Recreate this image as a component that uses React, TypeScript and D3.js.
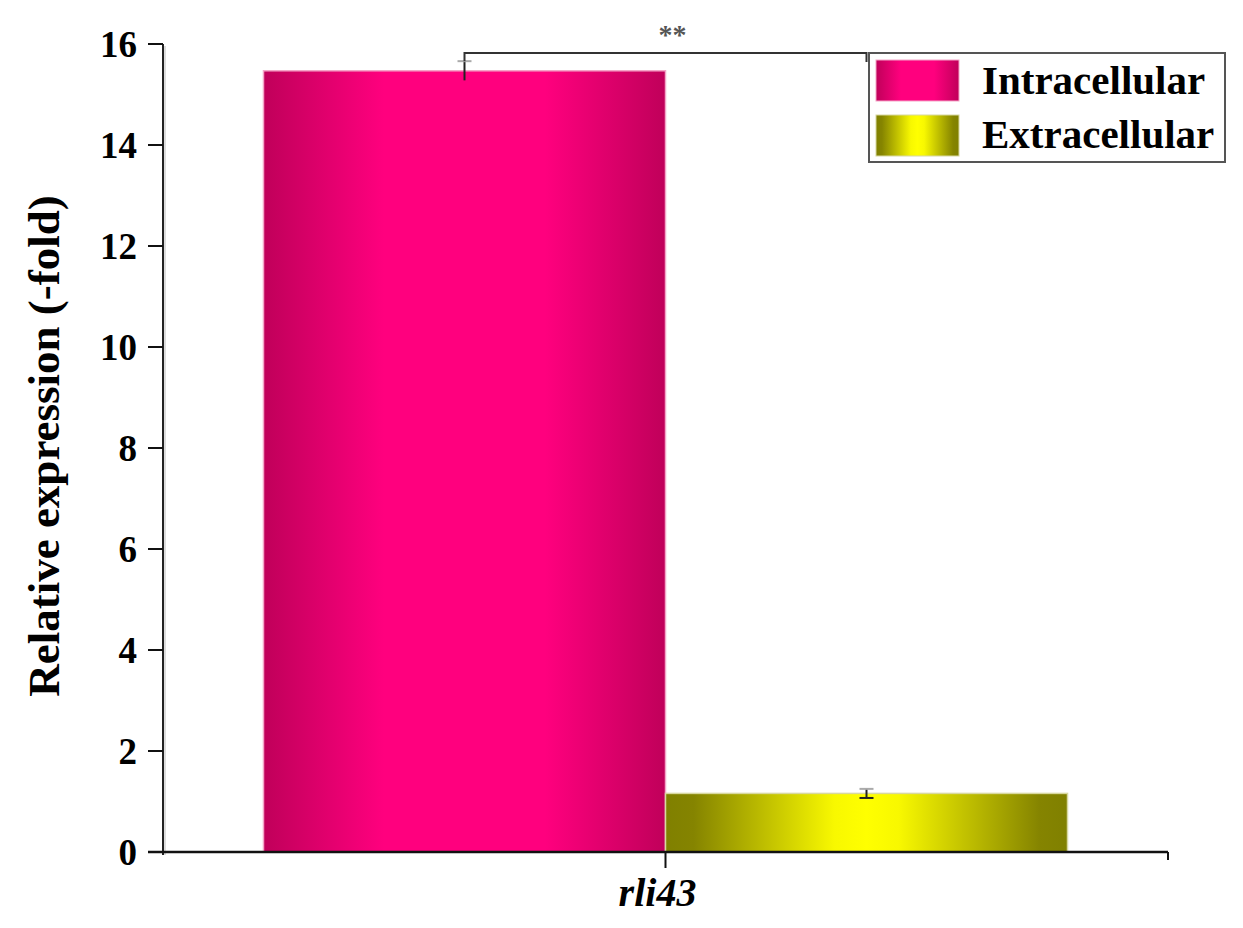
import React from "react";
import * as d3 from "d3";

const categories = ["rli43"];
const seriesNames = ["Intracellular", "Extracellular"];
const intracellular = [15.47];
const intracellularErr = [0.19];
const extracellular = [1.16];
const extracellularErr = [0.09];
const yTicks = [0, 2, 4, 6, 8, 10, 12, 14, 16];
const significance = "**";

export default function App() {
  const W = 1243, H = 928;
  const x0 = 163, x1 = 1168, yTop = 44, yBot = 852;
  const x = d3.scaleBand<string>().domain(categories).range([x0, x1]).paddingOuter(0.1).paddingInner(0.2);
  const y = d3.scaleLinear().domain([0, 16]).range([yBot, yTop]);
  const sub = d3.scaleBand<string>().domain(seriesNames).range([0, x.bandwidth()]);
  const serif = "'Liberation Serif', 'Times New Roman', serif";
  const vals = [intracellular, extracellular];
  const errs = [intracellularErr, extracellularErr];
  const fills = ["url(#gPink)", "url(#gYellow)"];
  const strokes = ["#f4a6c8", "#d8d8a0"];

  const cat = categories[0];
  const cx = (s: number) => (x(cat) as number) + (sub(seriesNames[s]) as number) + sub.bandwidth() / 2;
  const bracketY = 53;

  return (
    <svg width={W} height={H} style={{ position: "absolute", left: 0, top: 0, background: "#fff" }}>
      <defs>
        <linearGradient id="gPink" x1="0" x2="1" y1="0" y2="0">
          <stop offset="0" stopColor="#C0005A" />
          <stop offset="0.3" stopColor="#FF007E" />
          <stop offset="0.7" stopColor="#FF007E" />
          <stop offset="1" stopColor="#C0005A" />
        </linearGradient>
        <linearGradient id="gYellow" x1="0" x2="1" y1="0" y2="0">
          <stop offset="0" stopColor="#808000" />
          <stop offset="0.07" stopColor="#858400" />
          <stop offset="0.42" stopColor="#F8F800" />
          <stop offset="0.5" stopColor="#FFFF00" />
          <stop offset="0.58" stopColor="#F8F800" />
          <stop offset="0.93" stopColor="#858400" />
          <stop offset="1" stopColor="#808000" />
        </linearGradient>
      </defs>

      {/* bars */}
      {categories.map((c) =>
        seriesNames.map((s, i) => {
          const bx = (x(c) as number) + (sub(s) as number);
          const v = vals[i][categories.indexOf(c)];
          return (
            <rect key={c + s} x={bx} y={y(v)} width={sub.bandwidth()} height={yBot - y(v)}
              fill={fills[i]} stroke={strokes[i]} strokeWidth={1.5} />
          );
        })
      )}

      {/* error bars */}
      {seriesNames.map((s, i) => {
        const v = vals[i][0], e = errs[i][0];
        const px = cx(i);
        return (
          <g key={"e" + s} stroke="#222" strokeWidth={2}>
            <line x1={px} x2={px} y1={y(v + e)} y2={y(v - e)} />
            <line x1={px - 7} x2={px + 7} y1={y(v + e)} y2={y(v + e)} stroke="#aaa" />
            {i === 1 && <line x1={px - 7} x2={px + 7} y1={y(v - e)} y2={y(v - e)} />}
          </g>
        );
      })}

      {/* significance bracket */}
      <g stroke="#333" strokeWidth={2} fill="none">
        <path d={`M${cx(0)},${y(intracellular[0] + intracellularErr[0])} V${bracketY} H${cx(1)} V${bracketY + 9}`} />
      </g>
      <text x={(cx(0) + cx(1)) / 2 + 7} y={44} textAnchor="middle" fontFamily={serif} fontWeight="bold" fontSize={28} fill="#555">{significance}</text>

      {/* y axis */}
      <line x1={x0} x2={x0} y1={yTop} y2={yBot + 3} stroke="#222" strokeWidth={2} />
      <line x1={x0 + 2} x2={x0 + 2} y1={yTop + 2} y2={yBot + 3} stroke="#bbb" strokeWidth={1} />
      {yTicks.map((t) => (
        <g key={t}>
          <line x1={x0 - 15} x2={x0} y1={y(t)} y2={y(t)} stroke="#111" strokeWidth={2} />
          <text x={137} y={y(t)} dy="0.35em" textAnchor="end" fontFamily={serif} fontWeight="bold" fontSize={37} fill="#000">{t}</text>
        </g>
      ))}
      <text transform={`translate(59,446) rotate(-90)`} textAnchor="middle"
        fontFamily={serif} fontWeight="bold" fontSize={45} fill="#000">Relative expression (-fold)</text>

      {/* x axis */}
      <line x1={x0 - 15} x2={x1} y1={yBot} y2={yBot} stroke="#111" strokeWidth={2.5} />
      <line x1={x1} x2={x1} y1={yBot} y2={yBot + 8} stroke="#111" strokeWidth={2} />
      {categories.map((c) => {
        const px = (x(c) as number) + x.bandwidth() / 2;
        return (
          <g key={c}>
            <line x1={px} x2={px} y1={yBot} y2={yBot + 16} stroke="#111" strokeWidth={2} />
            <text x={px - 8} y={906} textAnchor="middle" fontFamily={serif} fontWeight="bold" fontStyle="italic" fontSize={40} fill="#000">{c}</text>
          </g>
        );
      })}

      {/* legend */}
      <rect x={869} y={53} width={356} height={109} fill="#fff" stroke="#555" strokeWidth={2} />
      {seriesNames.map((s, i) => (
        <g key={"l" + s}>
          <rect x={876} y={60 + i * 55} width={83} height={41} fill={fills[i]} stroke={strokes[i]} strokeWidth={1} />
          <text x={982} y={94 + i * 54} fontFamily={serif} fontWeight="bold" fontSize={41} fill="#000">{s}</text>
        </g>
      ))}
    </svg>
  );
}
